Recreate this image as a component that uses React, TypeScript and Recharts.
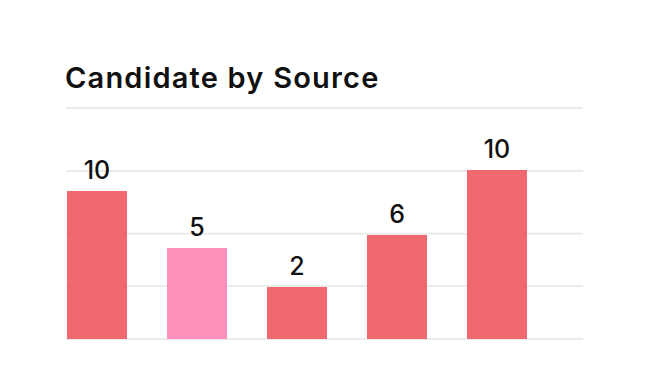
import { BarChart, Bar, XAxis, YAxis, CartesianGrid, LabelList, Cell } from 'recharts';

// Sources shown along the (hidden) category axis
const sources = ['Referral', 'Job Board', 'Agency', 'Website', 'LinkedIn'];
// Bar heights as drawn (relative scale, 0-100)
const barHeights = [64.1, 39.4, 22.5, 45.0, 73.2];
// Candidate counts printed above each bar
const candidateCounts = [10, 5, 2, 6, 10];
// Horizontal grid positions on the same relative scale
const gridTicks = [0, 22.9, 45.6, 72.7, 100];

const RED = '#ee6166';
const PINK = '#ff8ab8';
const FONT = 'Inter, sans-serif';

export default function App() {
    const data = sources.map((source, i) => ({
        source,
        height: barHeights[i],
        count: candidateCounts[i],
    }));

    return (
        <div style={{ position: 'absolute', top: 0, left: 0, width: 666, height: 390, background: '#fff', fontFamily: FONT }}>
            <div
                style={{
                    position: 'absolute',
                    left: 65,
                    top: 60,
                    fontSize: 29,
                    fontWeight: 600,
                    letterSpacing: '1.2px',
                    color: '#111',
                    lineHeight: '36px',
                    whiteSpace: 'nowrap',
                }}
            >
                Candidate by Source
            </div>
            <BarChart
                width={666}
                height={390}
                data={data}
                margin={{ top: 108, right: 83, left: 66, bottom: 51 }}
                style={{ position: 'absolute', top: 0, left: 0 }}
            >
                <CartesianGrid vertical={false} stroke="#ebebeb" strokeWidth={2} />
                <XAxis dataKey="source" hide padding={{ left: -19, right: 36 }} />
                <YAxis hide domain={[0, 100]} ticks={gridTicks} />
                <Bar dataKey="height" barSize={60} isAnimationActive={false} fillOpacity={0.95}>
                    {data.map((d, i) => (
                        <Cell key={d.source} fill={i === 1 ? PINK : RED} />
                    ))}
                    <LabelList
                        dataKey="count"
                        position="top"
                        offset={12}
                        fill="#111"
                        fontSize={25}
                        fontWeight={500}
                        fontFamily={FONT}
                    />
                </Bar>
            </BarChart>
        </div>
    );
}
